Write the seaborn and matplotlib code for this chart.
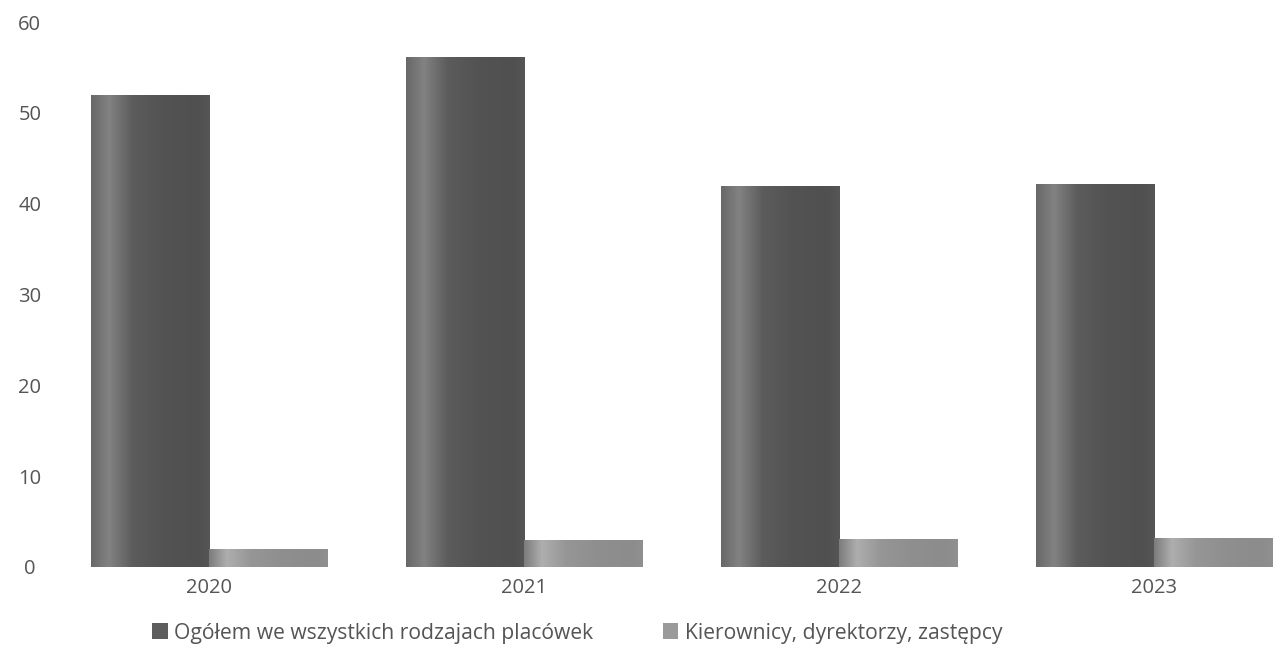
import numpy as np
import pandas as pd
import matplotlib
matplotlib.use("Agg")
import matplotlib.pyplot as plt
from matplotlib.colors import LinearSegmentedColormap
from matplotlib.patches import Patch
import seaborn as sns

years = ["2020", "2021", "2022", "2023"]
series_names = ["Ogółem we wszystkich rodzajach placówek",
                "Kierownicy, dyrektorzy, zastępcy"]
ogolem = [52.0, 56.2, 42.0, 42.2]
kierownicy = [2.0, 3.0, 3.1, 3.2]
y_ticks = [0, 10, 20, 30, 40, 50, 60]

base_colors = ["#575757", "#8e8e8e"]
text_color = "#555555"

df = pd.DataFrame({
    "rok": years * 2,
    "seria": [series_names[0]] * len(years) + [series_names[1]] * len(years),
    "wartosc": ogolem + kierownicy,
})

sns.set_theme(style="white")
plt.rcParams["font.family"] = ["Open Sans", "DejaVu Sans"]

fig = plt.figure(figsize=(12.86, 6.48), dpi=100)
ax = fig.add_axes([52 / 1286, 1 - 567 / 648, (1286 - 52) / 1286, (567 - 22) / 648])

sns.barplot(data=df, x="rok", y="wartosc", hue="seria", hue_order=series_names,
            palette=base_colors, width=0.75, saturation=1, legend=False, ax=ax)

# cylindrical shading across each bar
shades = {
    base_colors[0]: ["#686868", "#828282", "#5c5c5c", "#535353", "#505050", "#565656"],
    base_colors[1]: ["#7c7c7c", "#aeaeae", "#969696", "#8f8f8f", "#8c8c8c", "#909090"],
}
stops = [0.0, 0.15, 0.35, 0.6, 0.9, 1.0]
ax.set_xlim(-0.5, 3.42)
ax.set_ylim(0, 60)
for patch in list(ax.patches):
    fc = matplotlib.colors.to_hex(patch.get_facecolor())
    key = base_colors[0] if fc == base_colors[0] else base_colors[1]
    cmap = LinearSegmentedColormap.from_list("shade", list(zip(stops, shades[key])))
    x0, y0 = patch.get_x(), patch.get_y()
    w, h = patch.get_width(), patch.get_height()
    grad = np.linspace(0, 1, 256).reshape(1, -1)
    im = ax.imshow(grad, cmap=cmap, aspect="auto", extent=[x0, x0 + w, y0, y0 + h],
                   zorder=patch.get_zorder() + 0.1, interpolation="bicubic")
    im.set_clip_path(patch)
ax.set_xlim(-0.5, 3.42)
ax.set_ylim(0, 60)

ax.set_yticks(y_ticks)
ax.set_yticklabels([str(t) for t in y_ticks])
ax.tick_params(axis="y", length=0, pad=16, labelsize=14.5, labelcolor=text_color)
ax.tick_params(axis="x", length=0, pad=8, labelsize=14.5, labelcolor=text_color)
for lbl in ax.get_yticklabels():
    lbl.set_horizontalalignment("center")
ax.set_xlabel("")
ax.set_ylabel("")
ax.grid(False)
sns.despine(ax=ax, left=True, bottom=True, top=True, right=True)

handles = [Patch(facecolor=c, edgecolor="none") for c in ["#5e5e5e", "#9a9a9a"]]
fig.legend(handles, series_names, loc="center", bbox_to_anchor=(577 / 1286, 1 - 633 / 648),
           ncol=2, frameon=False, fontsize=15.2, labelcolor=text_color,
           handlelength=0.75, handleheight=0.75, handletextpad=0.3, columnspacing=3.3)

fig.savefig("out.png", dpi=100, facecolor="white")
